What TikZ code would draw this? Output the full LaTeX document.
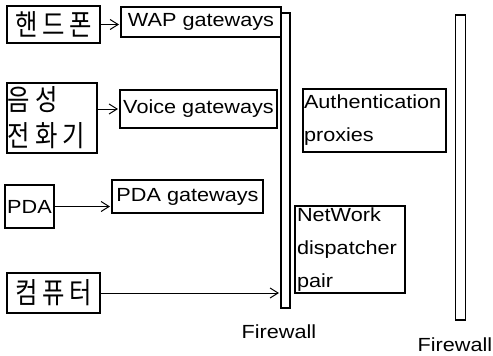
\documentclass[tikz,border=0pt]{standalone}
\usepackage{fontspec}
\setmainfont{Liberation Sans}[FakeStretch=1.14]
\newfontfamily\kr{Noto Sans CJK KR}[FakeStretch=0.84,LetterSpace=16]
\usetikzlibrary{arrows.meta}
\begin{document}
\begin{tikzpicture}[x=1pt,y=-1pt,line width=1.3pt,
  box/.style={draw,inner sep=0pt,outer sep=0pt},
  en/.style={font=\fontsize{19}{33}\selectfont},
  ko/.style={font=\kr\fontsize{29}{36}\selectfont},
  arr/.style={-{Straight Barb[length=8pt,width=10pt,line width=1pt]},line width=1pt,shorten >=2pt}]
\useasboundingbox (0,0) rectangle (493,356);
\node[box,ko,minimum width=93,minimum height=37] (hp) at (53.5,24.5) {핸드폰};
\node[box,en,minimum width=160,minimum height=30] (wap) at (201,22) {WAP gateways};
\node[box,ko,minimum width=90,minimum height=70,text width=88,align=left] (vp) at (52,118) {음성\\전화기};
\node[box,en,minimum width=157,minimum height=38] (vgw) at (198.5,109) {Voice gateways};
\node[box,en,minimum width=49,minimum height=43] (pda) at (29.5,206.5) {PDA};
\node[box,en,minimum width=151,minimum height=33] (pgw) at (187.5,196.5) {PDA gateways};
\node[box,ko,minimum width=93,minimum height=40] (pc) at (53.5,293) {컴퓨터};
\node[box,minimum width=9,minimum height=295] (fw1) at (285.5,160.5) {};
\node[box,minimum width=10,minimum height=305] (fw2) at (460.5,167.5) {};
\node[box,en,minimum width=143,minimum height=63,text width=141,align=left] (auth) at (374.5,120.5) {Authentication\\proxies};
\node[box,en,minimum width=110,minimum height=87,text width=106,align=left] (nd) at (350,249.5) {NetWork\\dispatcher\\pair};
\node[en] (l1) at (279,332) {Firewall};
\node[en] (l2) at (455,345) {Firewall};
\draw[arr] (hp.east) -- (wap.west |- hp.east);
\draw[arr] (vp.east |- vgw.west) -- (vgw.west);
\draw[arr] (pda.east) -- (pgw.west |- pda.east);
\draw[arr] (pc.east) -- (fw1.west |- pc.east);
\end{tikzpicture}
\end{document}
